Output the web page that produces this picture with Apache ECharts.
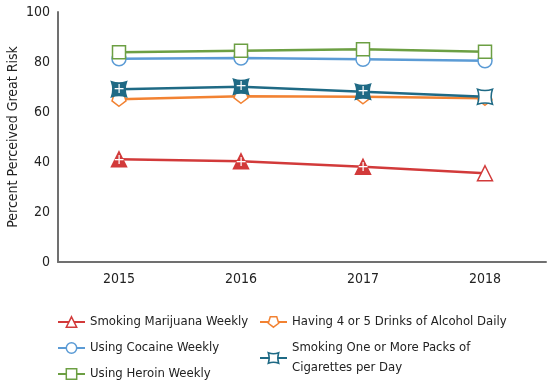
<!DOCTYPE html>
<html><head><meta charset="utf-8">
<script src="https://cdn.jsdelivr.net/npm/echarts@6/dist/echarts.min.js"></script>
<style>html,body{margin:0;padding:0;background:#fff}#c{width:553px;height:389px}</style>
</head><body><div id="c"></div>
<script>
const years = ['2015','2016','2017','2018'];
const marijuana = [41.1, 40.3, 38.1, 35.5];
const alcohol = [65.1, 66.3, 66.1, 65.5];
const cocaine = [81.3, 81.6, 81.1, 80.5];
const cigarettes = [69.1, 70.1, 68.1, 66.1];
const heroin = [83.9, 84.5, 85.1, 84.1];
const marijuanaSig = [true, true, true, false];
const cigarettesSig = [true, true, true, false];
const yTicks = [0, 20, 40, 60, 80, 100];

const FONT = "'DejaVu Sans Condensed', 'Roboto', sans-serif";
const pentDown = 'path://M0,100 L95,31 L59,-81 L-59,-81 L-95,31 Z';
const pinchSq = 'path://M-50,-50 Q0,-32 50,-50 Q32,0 50,50 Q0,32 -50,50 Q-32,0 -50,-50 Z';

function mk(name, values, color, symbol, size, sig) {
  return {
    name, type: 'line', data: values.map((v, i) => {
      const filled = sig && sig[i];
      return {
        value: v,
        itemStyle: { color: filled ? color : '#fff', borderColor: color, borderWidth: 1.5 },
        label: filled ? { show: true, formatter: '+', color: '#fff', position: 'inside',
          fontSize: 14, fontFamily: 'DejaVu Sans', offset: [0, name.indexOf('Marijuana') >= 0 ? 1 : 0] } : { show: false }
      };
    }),
    symbol, symbolSize: size, showAllSymbol: true,
    lineStyle: { color, width: 2.5 },
    itemStyle: { color: '#fff', borderColor: color, borderWidth: 1.5 },
    emphasis: { disabled: true }, animation: false
  };
}

const colors = { mar: '#d23a3a', alc: '#f28232', coc: '#5b9bd5', cig: '#1f6a85', her: '#6c9f43' };

const series = [
  mk('Smoking Marijuana Weekly', marijuana, colors.mar, 'triangle', 15, marijuanaSig),
  mk('Having 4 or 5 Drinks of Alcohol Daily', alcohol, colors.alc, pentDown, 14, null),
  mk('Using Cocaine Weekly', cocaine, colors.coc, 'circle', 14, null),
  mk('Smoking One or More Packs of\nCigarettes per Day', cigarettes, colors.cig, pinchSq, 15, cigarettesSig),
  mk('Using Heroin Weekly', heroin, colors.her, 'rect', 13, null)
];

function leg(name, left, top, color) {
  return {
    data: [{ name, itemStyle: { color: '#fff', borderColor: color, borderWidth: 1.5 } }],
    left, top, padding: 0, itemWidth: 27, itemHeight: 13, itemGap: 4,
    textStyle: { fontFamily: FONT, fontSize: 13, color: '#222', lineHeight: 20 },
    selectedMode: false
  };
}

const chart = echarts.init(document.getElementById('c'));
chart.setOption({
  animation: false,
  grid: { left: 58, right: 7, top: 12, bottom: 127, outerBoundsMode: 'none', containLabel: false },
  xAxis: {
    type: 'category', data: years, boundaryGap: true,
    axisLine: { lineStyle: { color: '#707070', width: 2 } },
    axisTick: { show: false },
    axisLabel: { fontFamily: FONT, fontSize: 14, color: '#222', margin: 10 }
  },
  yAxis: {
    type: 'value', min: 0, max: 100, interval: 20,
    name: 'Percent Perceived Great Risk', nameLocation: 'middle', nameGap: 38, nameMoveOverlap: false,
    nameTextStyle: { fontFamily: FONT, fontSize: 14, color: '#222' },
    axisLine: { show: true, lineStyle: { color: '#707070', width: 2 } },
    axisTick: { show: false }, splitLine: { show: false },
    axisLabel: { fontFamily: FONT, fontSize: 14, color: '#222', margin: 8,
      formatter: v => yTicks.includes(v) ? String(v) : '' }
  },
  legend: [
    leg(series[0].name, 57, 312, colors.mar),
    leg(series[2].name, 57, 338, colors.coc),
    leg(series[4].name, 57, 364, colors.her),
    leg(series[1].name, 259, 312, colors.alc),
    leg(series[3].name, 259, 338, colors.cig)
  ],
  series
});
</script></body></html>
